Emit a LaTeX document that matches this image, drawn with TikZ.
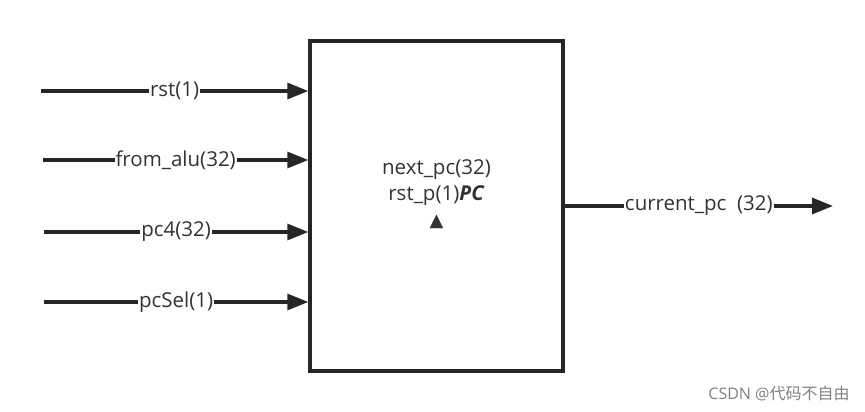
\documentclass[tikz,border=0pt]{standalone}
\usepackage{fontspec}
\setmainfont{Open Sans}
\newfontfamily\symfont{DejaVu Sans}
\newfontfamily\cjk{Noto Sans CJK SC}
\usetikzlibrary{arrows.meta,positioning}

\begin{document}
\begin{tikzpicture}[
  x=1pt, y=-1pt,
  ->,>={Triangle[length=21pt,width=16pt]}, % defines the style of the edge/arrow
  line width=3.2pt,
  color=black!85,
  block node/.style={draw,line width=3.4pt,rectangle,fill=white,minimum width=253pt,minimum height=330pt,inner sep=0pt}, % style of the PC box
  signal label/.style={fill=white,inner sep=1pt,font=\fontsize{20.5}{24}\selectfont,text=black!80}, % style of the wire labels
  box text/.style={align=center,font=\fontsize{20.5}{26}\selectfont,text=black!80} % style of the text in the box
  ]

  \useasboundingbox (0,0) rectangle (865,412);

  \node[block node] (PC) at (436.5,206) {};
  \node[box text,yshift=12pt] (PCtext) at (PC.center) {next\_pc(32)\\rst\_p(1)\textbf{\textit{PC}}\\{\symfont\fontsize{18}{26}\selectfont ▲}};

  \coordinate (rst) at (41,91);
  \coordinate (alu) at (43,160);
  \coordinate (pcf) at (44,232);
  \coordinate (sel) at (44,302);
  \coordinate (out) at (833,206);

  \path
    (rst) edge node[signal label] {rst(1)} (PC.west |- rst)
    (alu) edge node[signal label] {from\_alu(32)} (PC.west |- alu)
    (pcf) edge node[signal label] {pc4(32)} (PC.west |- pcf)
    (sel) edge node[signal label] {pcSel(1)} (PC.west |- sel)
    (PC.east |- out) edge node[signal label] {current\_pc\ \ (32)} (out);

  \node[text=black!50,font=\fontsize{16}{18}\selectfont] (mark) at (779,393) {CSDN @{\cjk 代码不自由}};
\end{tikzpicture}
\end{document}
